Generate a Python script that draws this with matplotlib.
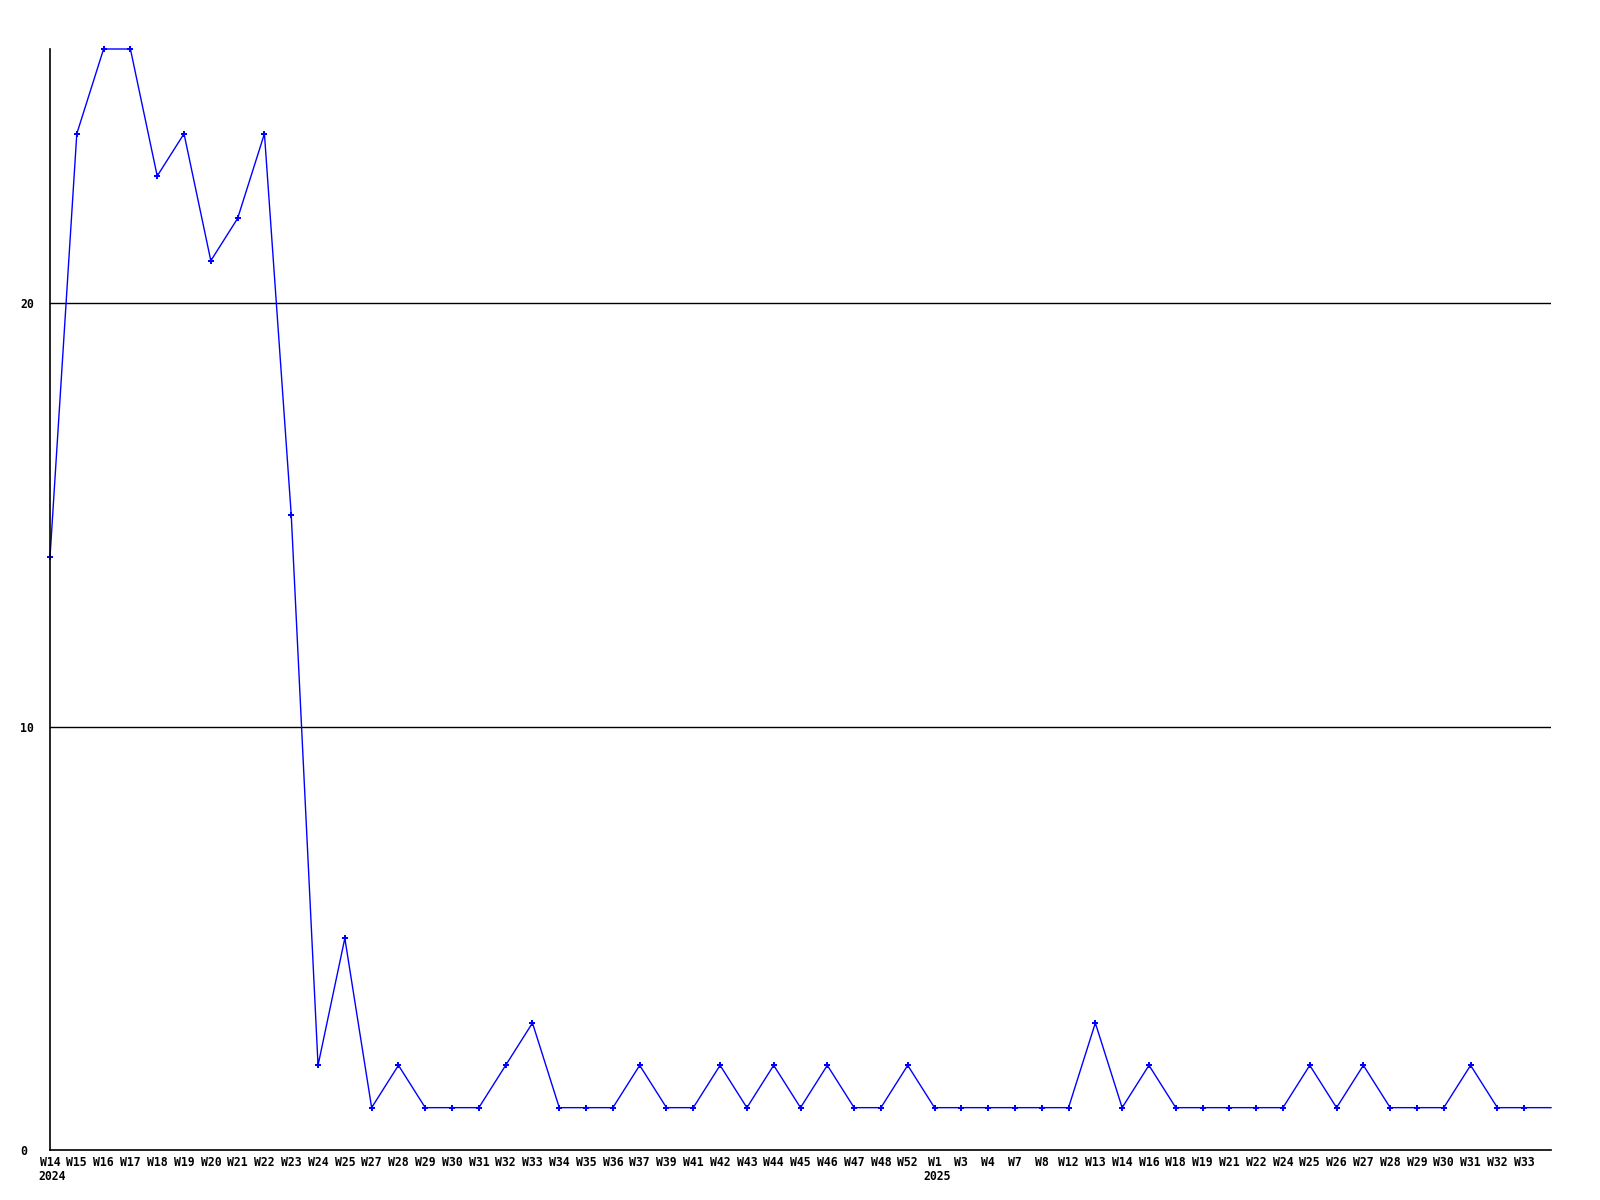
import matplotlib
matplotlib.use("Agg")
import matplotlib.pyplot as plt
from matplotlib.transforms import blended_transform_factory, offset_copy

weeks = ["W14", "W15", "W16", "W17", "W18", "W19", "W20", "W21", "W22", "W23",
         "W24", "W25", "W27", "W28", "W29", "W30", "W31", "W32", "W33", "W34",
         "W35", "W36", "W37", "W39", "W41", "W42", "W43", "W44", "W45", "W46",
         "W47", "W48", "W52", "W1", "W3", "W4", "W7", "W8", "W12", "W13",
         "W14", "W16", "W18", "W19", "W21", "W22", "W24", "W25", "W26", "W27",
         "W28", "W29", "W30", "W31", "W32", "W33", ""]
values = [14, 24, 26, 26, 23, 24, 21, 22, 24, 15,
          2, 5, 1, 2, 1, 1, 1, 2, 3, 1,
          1, 1, 2, 1, 1, 2, 1, 2, 1, 2,
          1, 1, 2, 1, 1, 1, 1, 1, 1, 3,
          1, 2, 1, 1, 1, 1, 1, 2, 1, 2,
          1, 1, 1, 2, 1, 1, 1]
years = {"2024": "W14", "2025": "W1"}
yticks = [0, 10, 20]

font = dict(family="DejaVu Sans Mono", weight="bold", size=8.3)

fig = plt.figure(figsize=(16, 12), dpi=100)
ax = fig.add_axes([50 / 1600, 50 / 1200, 1501 / 1600, 1101 / 1200])
x = list(range(len(values)))
ax.plot(x, values, color="#0000ff", lw=1.0, marker="P", markersize=4.5,
        markeredgewidth=0, markevery=list(range(len(values) - 1)), clip_on=False)
ax.set_xlim(0, len(values) - 1)
ax.set_ylim(0, 26)
for y in yticks[1:]:
    ax.axhline(y, color="black", lw=1.0, zorder=0)
for s in ["top", "right"]:
    ax.spines[s].set_visible(False)
for s in ["left", "bottom"]:
    ax.spines[s].set_color("black")
    ax.spines[s].set_linewidth(1.2)
ax.set_xticks(x)
ax.set_xticklabels(weeks, **font)
ax.set_yticks(yticks)
ax.set_yticklabels([str(v) for v in yticks], **font)
ax.tick_params(length=0)
ax.tick_params(axis="x", pad=4)
ax.tick_params(axis="y", pad=0)
for lab in ax.get_yticklabels():
    lab.set_horizontalalignment("left")
    lab.set_x(-30 / 1501)
tr = blended_transform_factory(ax.transData, fig.transFigure)
tr = offset_copy(tr, fig=fig, x=2.5, y=0, units="dots")
for yr, wk in years.items():
    idx = weeks.index(wk)
    ax.text(idx, (1200 - 1177) / 1200, yr, transform=tr, ha="center", va="center", **font)
fig.savefig("out.png", dpi=100, facecolor="white")
